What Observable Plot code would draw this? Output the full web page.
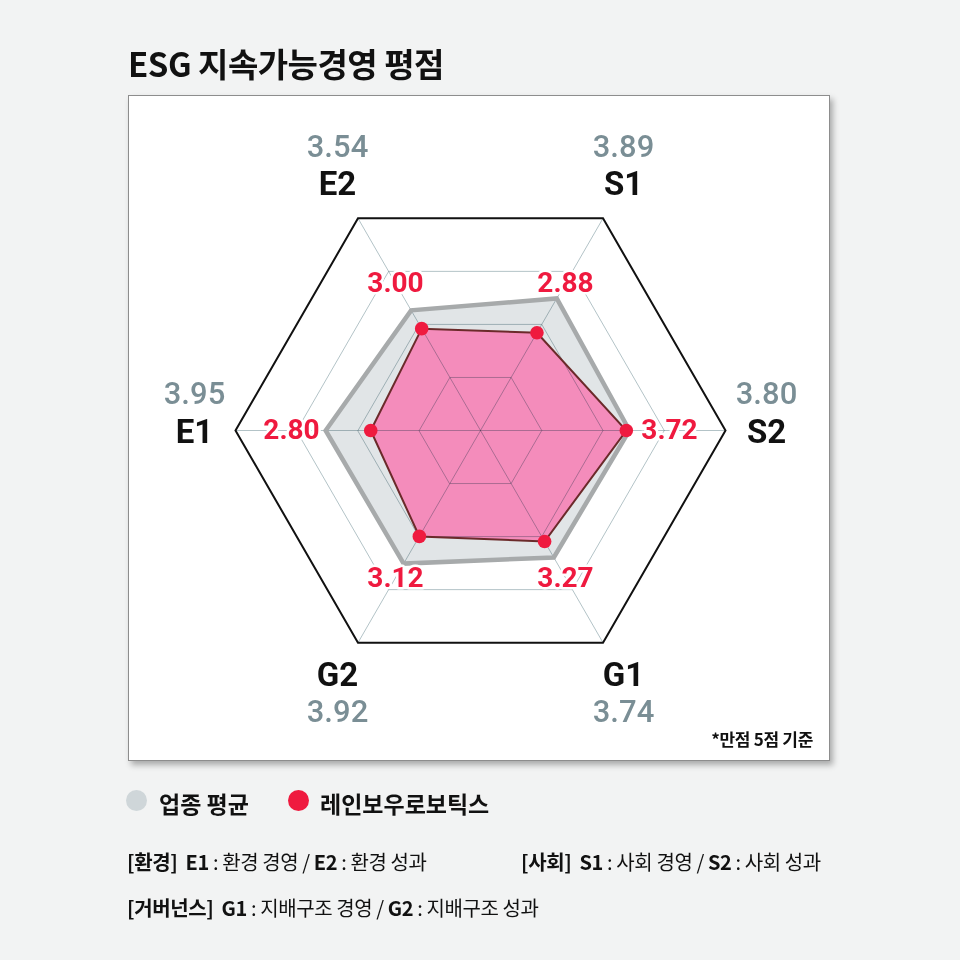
<!DOCTYPE html>
<html>
<head>
<meta charset="utf-8">
<script src="https://cdn.jsdelivr.net/npm/d3@7"></script>
<script src="https://cdn.jsdelivr.net/npm/@observablehq/plot@0.6"></script>
<style>
html, body { margin: 0; padding: 0; background: #f2f3f3; }
#page { position: relative; width: 960px; height: 960px; overflow: hidden; }
#title { position: absolute; left: 128px; top: 41px; font: 700 33px "Noto Sans CJK KR", sans-serif; letter-spacing: -0.5px; color: #111; line-height: 44px; white-space: nowrap; }
#panel { position: absolute; left: 128px; top: 95px; width: 700px; height: 664px; background: #fff; border: 1px solid #8d8d8d; box-shadow: 3px 4px 6px rgba(0,0,0,0.3); }
#panel svg { position: absolute; left: 0; top: 0; }
#panel svg g[aria-label="company-labels"] text { letter-spacing: -1.2px; }
#panel svg g[aria-label="average-values"] text { letter-spacing: -1px; }
#note { position: absolute; right: 16px; top: 633px; font: 700 17px "Noto Sans CJK KR", sans-serif; letter-spacing: -0.3px; color: #111; line-height: 20px; white-space: nowrap; }
.leg { position: absolute; top: 786px; height: 28px; line-height: 28px; font: 700 23px "Noto Sans CJK KR", sans-serif; letter-spacing: 0px; color: #111; white-space: nowrap; }
.sw { position: absolute; top: 790px; width: 21px; height: 21px; border-radius: 50%; }
.foot { position: absolute; font: 400 20px "Noto Sans CJK KR", sans-serif; letter-spacing: -0.4px; color: #111; line-height: 26px; white-space: nowrap; }
.foot b { font-weight: 700; }
</style>
</head>
<body>
<div id="page">
  <div id="title"></div>
  <div id="panel"><div id="note"></div></div>
  <div class="sw" id="sw0" style="left:126px;"></div>
  <div class="leg" id="leg0" style="left:159px;"></div>
  <div class="sw" id="sw1" style="left:288px;"></div>
  <div class="leg" id="leg1" style="left:320px;"></div>
  <div class="foot" id="foot0" style="left:127px; top:849px;"></div>
  <div class="foot" id="foot1" style="left:521px; top:849px;"></div>
  <div class="foot" id="foot2" style="left:127px; top:895px;"></div>
</div>
<script>
// ---------- data ----------
const titleText = "ESG 지속가능경영 평점";
const axes = ["E1", "E2", "S1", "S2", "G1", "G2"];
const industryAvg = [3.95, 3.54, 3.89, 3.80, 3.74, 3.92];
const company = [2.80, 3.00, 2.88, 3.72, 3.27, 3.12];
const seriesNames = ["업종 평균", "레인보우로보틱스"];
const noteText = "*만점 5점 기준";
const groupLabels = ["[환경]", "[사회]", "[거버넌스]"];
const groupDefs = [
  [["E1", "환경 경영"], ["E2", "환경 성과"]],
  [["S1", "사회 경영"], ["S2", "사회 성과"]],
  [["G1", "지배구조 경영"], ["G2", "지배구조 성과"]]
];
const ringLevels = [1, 2, 3, 4];

// ---------- layout / styles ----------
const colors = { avgFill: "#e1e5e7", avgStroke: "#a7aaab", coFill: "#f48cbb", coStroke: "#6b2a2a", dot: "#ef1a3f", grid: "#b3c3c7", valGray: "#7a8e95" };
const axisAngles = [180, 120, 60, 0, -60, -120];
const PX = 39.2;            // pixels per score point
const RMAX = 245 / PX;      // outer frame radius in score units
const CX = 351, CY = 334;   // centre inside the svg
const rad = a => a * Math.PI / 180;
const pt = (a, r) => ({ x: r * Math.cos(rad(a)), y: r * Math.sin(rad(a)) });

const avgPts = axes.map((k, i) => ({ axis: k, value: industryAvg[i], ...pt(axisAngles[i], industryAvg[i]) }));
const coPts = axes.map((k, i) => ({ axis: k, value: company[i], ...pt(axisAngles[i], company[i]) }));
const rings = ringLevels.flatMap(l => axisAngles.map(a => ({ ring: l, ...pt(a, RMAX * l / ringLevels.length) })));
const spokes = axisAngles.map(a => { const p = pt(a, RMAX); return { x1: 0, y1: 0, x2: p.x, y2: p.y }; });

const coLabels = coPts.map((d, i) => {
  const a = axisAngles[i];
  const r = (Math.abs(Math.sin(rad(a))) < 0.1 ? 189 : 170) / PX;
  const p = pt(a, r);
  return { text: d.value.toFixed(2), x: p.x, y: p.y };
});
const nameLabels = axes.map((k, i) => {
  const a = axisAngles[i];
  const p = pt(a, 286 / PX);
  return { text: k, x: p.x, y: p.y + (a < 0 ? 3 : -2) / PX };
});
const valLabels = axes.map((k, i) => {
  const a = axisAngles[i];
  const p = pt(a, 286 / PX);
  const below = a < 0;
  return { text: industryAvg[i].toFixed(2), x: p.x, y: p.y + (below ? -34 : 36) / PX };
});

const font = "Roboto, 'Noto Sans CJK KR', sans-serif";
const chart = Plot.plot({
  width: 700,
  height: 664,
  margin: 0,
  style: { background: "transparent", overflow: "visible" },
  x: { domain: [-RMAX, RMAX], range: [CX - 245, CX + 245], axis: null },
  y: { domain: [-RMAX, RMAX], range: [CY + 245, CY - 245], axis: null },
  marks: [
    Plot.line(avgPts, { x: "x", y: "y", curve: "linear-closed", fill: colors.avgFill, stroke: "none" }),
    Plot.line(coPts, { x: "x", y: "y", curve: "linear-closed", fill: colors.coFill, stroke: "none" }),
    Plot.line(rings.filter(d => d.ring < 4), { x: "x", y: "y", z: "ring", curve: "linear-closed", stroke: colors.grid, strokeWidth: 1, mixBlendMode: "multiply" }),
    Plot.link(spokes, { x1: "x1", y1: "y1", x2: "x2", y2: "y2", stroke: colors.grid, strokeWidth: 1, mixBlendMode: "multiply" }),
    Plot.line(rings.filter(d => d.ring === 4), { x: "x", y: "y", curve: "linear-closed", stroke: "#111", strokeWidth: 2, strokeLinejoin: "miter", strokeMiterlimit: 10 }),
    Plot.line(avgPts, { x: "x", y: "y", curve: "linear-closed", stroke: colors.avgStroke, strokeWidth: 4.5, strokeLinejoin: "miter", strokeMiterlimit: 10 }),
    Plot.line(coPts, { x: "x", y: "y", curve: "linear-closed", stroke: colors.coStroke, strokeWidth: 2, strokeLinejoin: "miter", strokeMiterlimit: 10 }),
    Plot.dot(coPts, { x: "x", y: "y", r: 6.8, fill: colors.dot, stroke: "none" }),
    Plot.text(coLabels, { x: "x", y: "y", text: "text", ariaLabel: "company-labels", fill: colors.dot, stroke: "white", strokeWidth: 5, paintOrder: "stroke", fontSize: 28, fontWeight: 700, fontFamily: font }),
    Plot.text(nameLabels, { x: "x", y: "y", text: "text", ariaLabel: "axis-names", fill: "#111", fontSize: 33, fontWeight: 700, fontFamily: font }),
    Plot.text(valLabels, { x: "x", y: "y", text: "text", ariaLabel: "average-values", fill: colors.valGray, fontSize: 31, fontWeight: 500, fontFamily: "'Roboto Medium', " + font })
  ]
});
document.getElementById("panel").appendChild(chart);

// ---------- html text ----------
document.getElementById("title").textContent = titleText;
document.getElementById("note").textContent = noteText;
document.getElementById("sw0").style.background = "#cfd6d9";
document.getElementById("sw1").style.background = colors.dot;
document.getElementById("leg0").textContent = seriesNames[0];
document.getElementById("leg1").textContent = seriesNames[1];
groupLabels.forEach((g, i) => {
  const el = document.getElementById("foot" + i);
  const [a, b] = groupDefs[i];
  el.innerHTML = `<b>${g}</b>&nbsp; <b>${a[0]}</b> : ${a[1]} / <b>${b[0]}</b> : ${b[1]}`;
});
</script>
</body>
</html>
